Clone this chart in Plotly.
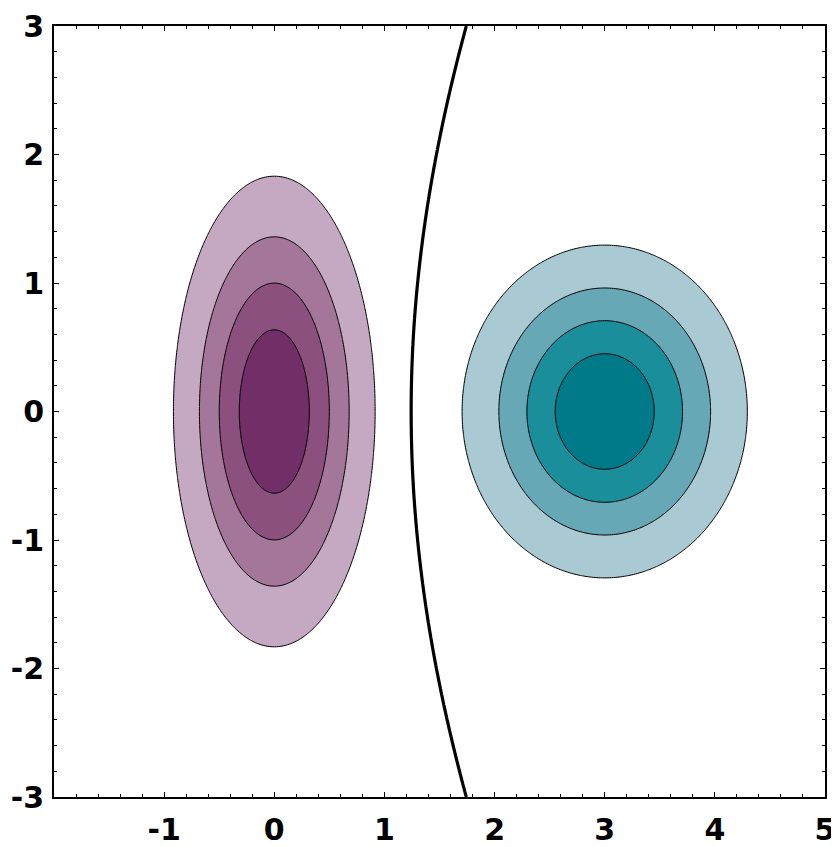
import numpy as np
import plotly.graph_objects as go

# Model parameters (two Gaussian classes)
mean_a = [0.0, 0.0]
var_a = [0.25, 1.0]      # diagonal covariance, purple class
mean_b = [3.0, 0.0]
var_b = [0.5, 0.5]       # diagonal covariance, teal class
levels = [0.187, 0.397, 0.607, 0.817]   # contour levels (fraction of peak density)

purple = ["#C5A8C1", "#A4779A", "#8B507D", "#722E67"]
teal = ["#A9C9D3", "#66A8B6", "#1A8E9B", "#007A89"]

x_ticks = [-1, 0, 1, 2, 3, 4, 5]
y_ticks = [-3, -2, -1, 0, 1, 2, 3]
x_range = [-2, 5]
y_range = [-3, 3]

xs = np.linspace(x_range[0], x_range[1], 351)
ys = np.linspace(y_range[0], y_range[1], 301)
X, Y = np.meshgrid(xs, ys)


def mahal(mean, var):
    return (X - mean[0]) ** 2 / var[0] + (Y - mean[1]) ** 2 / var[1]


za = np.exp(-0.5 * mahal(mean_a, var_a))
zb = np.exp(-0.5 * mahal(mean_b, var_b))
llr = (-0.5 * mahal(mean_a, var_a) - 0.5 * np.log(var_a[0] * var_a[1])
       + 0.5 * mahal(mean_b, var_b) + 0.5 * np.log(var_b[0] * var_b[1]))


def step_scale(cols):
    bg = "rgba(255,255,255,0)"
    return [[0, bg], [0.25, bg], [0.25, cols[0]], [0.5, cols[0]],
            [0.5, cols[1]], [0.75, cols[1]], [0.75, cols[2]], [0.95, cols[2]],
            [0.95, cols[3]], [1, cols[3]]]


step = levels[1] - levels[0]
fig = go.Figure()
for z, cols in [(za, purple), (zb, teal)]:
    fig.add_trace(go.Contour(
        x=xs, y=ys, z=z,
        contours=dict(coloring="fill", start=levels[0], end=levels[-1] + 1e-6, size=step),
        colorscale=step_scale(cols), showscale=False,
        line=dict(color="black", width=1), hoverinfo="skip"))

fig.add_trace(go.Contour(
    x=xs, y=ys, z=llr,
    contours=dict(coloring="none", start=0, end=0, size=1),
    line=dict(color="black", width=3.2), showscale=False, hoverinfo="skip"))

axis_common = dict(
    showgrid=False, zeroline=False, showline=True, linecolor="black", linewidth=1.6,
    mirror="allticks", ticks="inside", ticklen=5, tickwidth=1.2, tickcolor="black",
    tickfont=dict(family="DejaVu Sans", size=30, color="black", weight="bold"),
    minor=dict(ticks="inside", ticklen=3, tickwidth=1, tickcolor="black",
               tickmode="linear", tick0=0, dtick=0.2),
    automargin=False,
)
fig.update_xaxes(range=x_range, tickmode="array", tickvals=x_ticks,
                 ticktext=[str(v) for v in x_ticks], ticklabelstandoff=5, **axis_common)
fig.update_yaxes(range=y_range, tickmode="array", tickvals=y_ticks,
                 ticktext=[str(v) for v in y_ticks], ticklabelstandoff=2, **axis_common)
# page body has an 8px margin, so the figure is sized/offset to compensate
fig.update_layout(width=831, height=839, margin=dict(l=46, r=14, t=18, b=50),
                  plot_bgcolor="white", paper_bgcolor="white", showlegend=False)
fig.write_html("out.html")
